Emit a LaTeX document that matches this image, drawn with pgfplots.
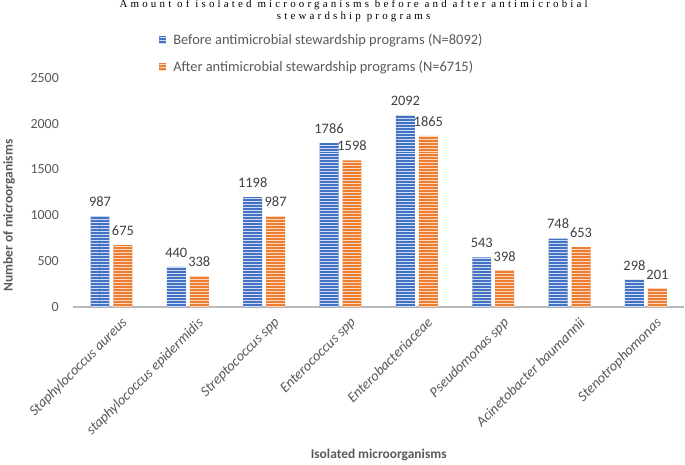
\documentclass[border=0pt]{standalone}
\usepackage{fontspec}
\setmainfont{Carlito}
\newfontfamily\titlefont[LetterSpace=29]{Liberation Serif}
\usepackage{pgfplots}
\pgfplotsset{compat=1.18}
\usetikzlibrary{patterns,calc}
\definecolor{xlBlue}{HTML}{4472C4}
\definecolor{xlOrange}{HTML}{ED7D31}
\definecolor{txtGray}{HTML}{595959}
\begin{document}
\begin{tikzpicture}
\begin{axis}[
  name=main, clip=false,
  scale only axis, width=612bp, height=230bp,
  ybar=4bp, bar width=19bp,
  xmin=-0.5, xmax=7.5, ymin=0, ymax=2500,
  xtick={0,...,7},
  xticklabels={Staphylococcus aureus,staphylococcus epidermidis,Streptococcus spp,Enterococcus spp,Enterobacteriaceae,Pseudomonas spp,Acinetobacter baumannii,Stenotrophomonas},
  x tick label style={rotate=45, anchor=north east, font=\fontsize{14.5}{16}\selectfont\itshape, color=txtGray, inner sep=0bp, yshift=-13bp},
  ytick={0,500,...,2500},
  y tick label style={font=\fontsize{14}{16}\selectfont, color=txtGray, xshift=-11bp},
  /pgf/number format/assume math mode=true,
  /pgf/number format/1000 sep={},
  major tick length=0pt,
  axis lines=left,
  x axis line style={-, draw=gray!55, line width=1.8bp},
  y axis line style={draw=none},
  ylabel={\textbf{Number of microorganisms}},
  xlabel={\textbf{Isolated microorganisms}},
  label style={font=\fontsize{13.5}{15}\selectfont, color=txtGray},
  ylabel style={at={(axis description cs:-0.105,0.40)}, anchor=center, rotate=0},
  xlabel style={at={(axis description cs:0.5,-0.645)}, anchor=center},
  nodes near coords,
  nodes near coords style={font=\fontsize{14.5}{16}\selectfont, color=black!75, yshift=6bp},
  legend style={at={(axis description cs:0.1405,1.2)}, anchor=north west, draw=none, fill=none,
    font=\fontsize{14.5}{16}\selectfont, text=txtGray, row sep=11bp, inner sep=0pt},
  legend cell align=left,
  legend image code/.code={\fill[#1] (0bp,-3.5bp) rectangle (7bp,3.5bp); \path (12bp,0bp);},
]
\addplot[fill=xlBlue, draw=none, postaction={pattern=horizontal lines, pattern color=white!75!xlBlue}]
  coordinates {(0,987) (1,440) (2,1198) (3,1786) (4,2092) (5,543) (6,748) (7,298)};
\addlegendentry{Before antimicrobial stewardship programs (N=8092)}
\addplot[fill=xlOrange, draw=none, postaction={pattern=horizontal lines, pattern color=white!70!xlOrange}]
  coordinates {(0,675) (1,338) (2,987) (3,1598) (4,1865) (5,398) (6,653) (7,201)};
\addlegendentry{After antimicrobial stewardship programs (N=6715)}
\end{axis}
\node[font=\titlefont\fontsize{11}{12}\selectfont, align=center, anchor=north, inner sep=0pt]
  at ($(main.north west)!0.459!(main.north east)+(0,78bp)$) {Amount of isolated microorganisms before and after antimicrobial\\stewardship programs};
\end{tikzpicture}
\end{document}
